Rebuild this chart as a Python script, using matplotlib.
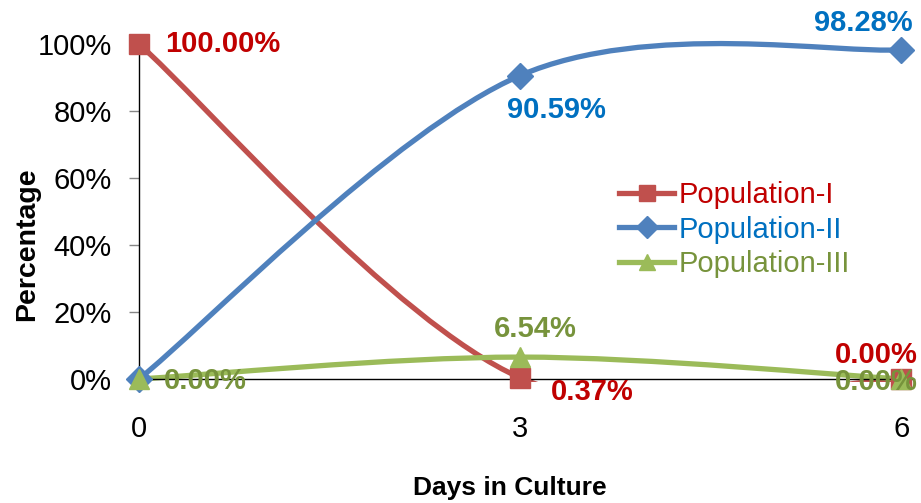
import matplotlib
matplotlib.use("Agg")
import matplotlib.pyplot as plt
from matplotlib.path import Path
from matplotlib.patches import PathPatch, Rectangle
from matplotlib.lines import Line2D
from matplotlib.ticker import FuncFormatter

days = [0, 3, 6]
pop1 = [100.00, 0.37, 0.00]
pop2 = [0.00, 90.59, 98.28]
pop3 = [0.00, 6.54, 0.00]
names = ["Population-I", "Population-II", "Population-III"]
line_colors = ["#C0504D", "#4F81BD", "#9BBB59"]
text_colors = ["#C00000", "#0070C0", "#77933C"]
markers = ["s", "D", "^"]
msizes = [14, 13, 14]
y_ticks = [0, 20, 40, 60, 80, 100]
x_ticks = [0, 3, 6]

plt.rcParams['font.family'] = ['Liberation Sans', 'DejaVu Sans']

W, H = 921, 503
fig = plt.figure(figsize=(W / 100, H / 100), dpi=100)
L, R, B, T = 139, 914, 379, 44
ax = fig.add_axes([L / W, 1 - B / H, (R - L) / W, (B - T) / H])
ax.set_xlim(0, 6.1)
ax.set_ylim(0, 100)


def smooth_path(xs, ys):
    pts = list(zip(xs, ys))
    n = len(pts)
    verts = [pts[0]]
    codes = [Path.MOVETO]
    for i in range(n - 1):
        p0 = pts[i - 1] if i > 0 else pts[i]
        p1 = pts[i]
        p2 = pts[i + 1]
        p3 = pts[i + 2] if i + 2 < n else pts[i + 1]
        c1 = (p1[0] + (p2[0] - p0[0]) / 6, p1[1] + (p2[1] - p0[1]) / 6)
        c2 = (p2[0] - (p3[0] - p1[0]) / 6, p2[1] - (p3[1] - p1[1]) / 6)
        verts += [c1, c2, p2]
        codes += [Path.CURVE4] * 3
    return Path(verts, codes)


series = [pop1, pop2, pop3]
clip = Rectangle((-1, -1.0), 9, 130, transform=ax.transData, fill=False, visible=False)
ax.add_patch(clip)
for k, ys in enumerate(series):
    patch = PathPatch(smooth_path(days, ys), facecolor="none", edgecolor=line_colors[k],
                      lw=3.8, capstyle="round", joinstyle="round", zorder=2 + k * 0.1)
    ax.add_patch(patch)
    patch.set_clip_path(clip)
    ax.plot(days, ys, linestyle="none", marker=markers[k], markersize=msizes[k],
            color=line_colors[k], markeredgecolor=line_colors[k], clip_on=False,
            zorder=3 + k * 0.1)

fs = 21
def lab(x, y, text, color, dx, dy, ha):
    ax.annotate(text, (x, y), xytext=(dx, dy), textcoords="offset pixels",
                ha=ha, va="center", fontsize=fs, fontweight="bold", color=color,
                annotation_clip=False, zorder=6)

lab(days[0], pop1[0], f"{pop1[0]:.2f}%", text_colors[0], 26, 0, "left")
lab(days[1], pop1[1], f"{pop1[1]:.2f}%", text_colors[0], 31, -14, "left")
lab(days[2], pop1[2], f"{pop1[2]:.2f}%", text_colors[0], 16, 24, "right")
lab(days[1], pop2[1], f"{pop2[1]:.2f}%", text_colors[1], 36, -34, "center")
lab(days[2], pop2[2], f"{pop2[2]:.2f}%", text_colors[1], 11, 27, "right")
lab(days[0], pop3[0], f"{pop3[0]:.2f}%", text_colors[2], 25, -2, "left")
lab(days[1], pop3[1], f"{pop3[1]:.2f}%", text_colors[2], 15, 28, "center")
lab(days[2], pop3[2], f"{pop3[2]:.2f}%", text_colors[2], 16, -3, "right")

for s in ["top", "right"]:
    ax.spines[s].set_visible(False)
ax.spines["left"].set_color("black")
ax.spines["bottom"].set_color("black")
ax.spines["left"].set_linewidth(1)
ax.spines["bottom"].set_linewidth(1)
ax.set_yticks(y_ticks)
ax.yaxis.set_major_formatter(FuncFormatter(lambda v, p: f"{v:.0f}%"))
ax.set_xticks(x_ticks)
ax.tick_params(axis="y", length=7.5, width=1, color="#868686", labelsize=21, pad=12)
ax.tick_params(axis="x", length=0, labelsize=21, pad=26)

fig.text(27 / W, 1 - 244 / H, "Percentage", rotation=90, ha="center", va="center",
         fontsize=20.5, fontweight="bold")
fig.text(510 / W, 1 - 488 / H, "Days in Culture", ha="center", va="center",
         fontsize=19, fontweight="bold")

handles = [Line2D([], [], color=line_colors[k], lw=3.8, marker=markers[k],
                  markersize=msizes[k] * 0.85) for k in range(3)]
leg = fig.legend(handles, names, loc="upper left", bbox_to_anchor=(619 / W, 1 - 181 / H),
                 frameon=False, fontsize=21, handlelength=1.9, handletextpad=0.13,
                 labelspacing=0.23, borderpad=0, borderaxespad=0)
for t, c in zip(leg.get_texts(), text_colors):
    t.set_color(c)

fig.savefig("out.png", dpi=100)
